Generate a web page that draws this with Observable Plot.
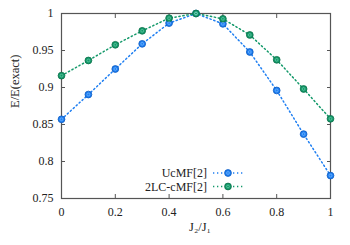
<!DOCTYPE html>
<html><head><meta charset="utf-8">
<script src="https://cdn.jsdelivr.net/npm/d3@7"></script>
<script src="https://cdn.jsdelivr.net/npm/@observablehq/plot@0.6"></script>
<style>
html,body{margin:0;padding:0;background:#fff;}
</style>
</head><body>
<div id="chart"></div>
<script>
const j2 = [0, 0.1, 0.2, 0.3, 0.4, 0.5, 0.6, 0.7, 0.8, 0.9, 1.0];
const ucmf = [0.857, 0.8905, 0.925, 0.959, 0.987, 1.0, 0.986, 0.948, 0.896, 0.837, 0.781];
const lc2 = [0.916, 0.9365, 0.9577, 0.9766, 0.9937, 1.0, 0.9928, 0.971, 0.9374, 0.898, 0.8577];
const seriesNames = ["UcMF[2]", "2LC-cMF[2]"];
const seriesColors = ["#1f7ff2", "#13996a"];
const darkColors = ["#0c5bc0", "#0b6e48"];
const lightColors = ["#9fd0ff", "#8fe0bf"];
const xTicks = [0, 0.2, 0.4, 0.6, 0.8, 1];
const yTicks = [0.75, 0.8, 0.85, 0.9, 0.95, 1];

const data = [];
j2.forEach((x, i) => {
  data.push({x, y: ucmf[i], s: seriesNames[0]});
  data.push({x, y: lc2[i], s: seriesNames[1]});
});

const font = "'Liberation Serif', 'DejaVu Serif', serif";
const axisColor = "#555";
const dash = "1.3,2.7";

function legendMark(index, scales, values, dims) {
  const g = d3.create("svg:g");
  const right = dims.width - dims.marginRight;
  const bottom = dims.height - dims.marginBottom;
  const rows = [bottom - 25, bottom - 11.5];
  seriesNames.forEach((name, i) => {
    const y = rows[i];
    g.append("text").attr("x", right - 123).attr("y", y).attr("dy", "0.35em")
      .attr("text-anchor", "end").attr("font-family", font).attr("font-size", 12)
      .attr("fill", "#222").text(name);
    g.append("line").attr("x1", right - 117).attr("x2", right - 87).attr("y1", y).attr("y2", y)
      .attr("stroke", seriesColors[i]).attr("stroke-width", 1.6).attr("stroke-dasharray", dash);
    g.append("circle").attr("cx", right - 102).attr("cy", y).attr("r", 3.4)
      .attr("fill", seriesColors[i]).attr("stroke", darkColors[i]).attr("stroke-width", 0.8);
    g.append("circle").attr("cx", right - 102).attr("cy", y).attr("r", 1.4)
      .attr("fill", "none").attr("stroke", lightColors[i]).attr("stroke-opacity", 0.8).attr("stroke-width", 0.6);
  });
  return g.node();
}

const chart = Plot.plot({
  width: 350,
  height: 245,
  marginLeft: 61,
  marginRight: 20,
  marginTop: 13,
  marginBottom: 47,
  style: {fontFamily: font, fontSize: "12px", color: "#222", background: "#fff"},
  x: {domain: [0, 1]},
  y: {domain: [0.75, 1]},
  color: {domain: seriesNames, range: seriesColors},
  marks: [
    Plot.axisX(xTicks, {anchor: "bottom", tickSize: -4, tickPadding: 13, stroke: axisColor, strokeWidth: 1, fontSize: 12, fill: "#222", label: null, tickFormat: d => String(d)}),
    Plot.axisX(xTicks, {anchor: "top", tickSize: -4, stroke: axisColor, strokeWidth: 1, text: null, label: null}),
    Plot.axisY(yTicks, {anchor: "left", tickSize: -4, tickPadding: 12, stroke: axisColor, strokeWidth: 1, fontSize: 12, fill: "#222", label: null, tickFormat: d => String(d)}),
    Plot.axisY(yTicks, {anchor: "right", tickSize: -4, stroke: axisColor, strokeWidth: 1, text: null, label: null}),
    Plot.frame({stroke: axisColor, strokeWidth: 1.2}),
    Plot.line(data, {x: "x", y: "y", z: "s", stroke: "s", strokeWidth: 1.5, strokeDasharray: dash}),
    Plot.dot(data, {x: "x", y: "y", fill: "s", stroke: d => darkColors[seriesNames.indexOf(d.s)], strokeWidth: 0.8, r: 3.4}),
    Plot.dot(data, {x: "x", y: "y", stroke: d => lightColors[seriesNames.indexOf(d.s)], strokeOpacity: 0.8, strokeWidth: 0.6, r: 1.4}),
    Plot.text(["J₂/J₁"], {frameAnchor: "bottom", dy: 32, dx: 4, fontSize: 12.5, fill: "#222"}),
    Plot.text(["E/E(exact)"], {frameAnchor: "left", dx: -47, dy: 2, rotate: -90, fontSize: 12.5, fill: "#222"}),
    legendMark
  ]
});
document.getElementById("chart").appendChild(chart);
</script>
</body></html>
